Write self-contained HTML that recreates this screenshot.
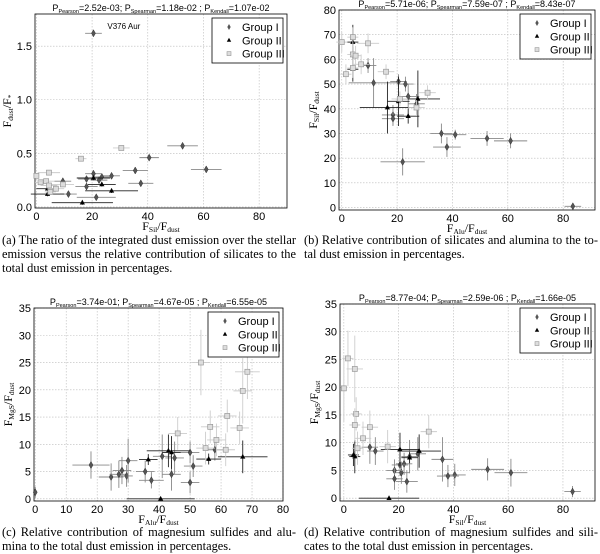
<!DOCTYPE html>
<html><head><meta charset="utf-8"><style>
html,body{margin:0;padding:0;background:#fff;width:600px;height:554px;overflow:hidden;position:relative}
svg{position:absolute;left:0;top:0}
.cap{position:absolute;width:294px;font-family:"Liberation Serif",serif;font-size:12.4px;line-height:14.2px;color:#000}
.cap span{display:block;white-space:nowrap;text-align:justify;text-align-last:justify}
.cap span.last{text-align-last:left}
</style></head><body>
<svg id="fig" width="600" height="554"></svg>
<div class="cap" style="left:2px;top:233px"><span>(a) The ratio of the integrated dust emission over the stellar</span><span>emission versus the relative contribution of silicates to the</span><span class="last">total dust emission in percentages.</span></div>
<div class="cap" style="left:304px;top:233px"><span>(b) Relative contribution of silicates and alumina to the to-</span><span class="last">tal dust emission in percentages.</span></div>
<div class="cap" style="left:2px;top:525px"><span>(c) Relative contribution of magnesium sulfides and alu-</span><span class="last">mina to the total dust emission in percentages.</span></div>
<div class="cap" style="left:304px;top:525px"><span>(d) Relative contribution of magnesium sulfides and sili-</span><span class="last">cates to the total dust emission in percentages.</span></div>
<script>
// Panel (a): x = Fsil/Fdust, y = Fdust/F*
const aG1x=[20.5,52.5,40.5,61,35.5,37.5,27,23.5,20.5,18,22.5,18,9.5,11.5,21.5];
const aG1y=[1.62,0.57,0.46,0.35,0.34,0.22,0.29,0.28,0.31,0.26,0.25,0.19,0.24,0.12,0.09];
const aG1xe=[3,5.5,3.5,5.5,4.5,4.5,3,3,3,3,3,4,3,3,7];
const aG2x=[20.5,23.5,27,4,4,16.5];
const aG2y=[0.27,0.21,0.15,0.17,0.12,0.04];
const aG2xe=[6,5,9.5,4,6,11];
const aG3x=[30.5,16,4.5,0,1.5,3.5,9.5,4.5,7,5];
const aG3y=[0.55,0.45,0.32,0.29,0.23,0.24,0.21,0.20,0.17,0.14];
const aG3xe=[3,2,4,1,2,3,4,3,3,2];
// Panel (b): x = Falu/Fdust, y = Fsil/Fdust
const bG1x=[83.5,61,52.5,41,36,38,22,18.5,18.5,27,24,20.5,23,11.5,9.5];
const bG1y=[0.5,27,28,29.5,30,24.5,18.5,37.5,36,42,45,51,50,50.5,57.5];
const bG1xe=[3,6,6,4,4,5,8,4,4,3,4,3,3,9,3];
const bG1ye=[0.5,3,3,2,4,4,5.5,4,3,4,5,3,3,10,3];
const bG2x=[4,4,16.5,20.5,24,27.5];
const bG2y=[67,56,40.5,43,37,44];
const bG2xe=[2,2,10,4,4,8];
const bG2ye=[7,5,10.5,10,3,11.5];
const bG3x=[0,4,9.5,4,5,4,7,1.5,16,31,27,21];
const bG3y=[67,69,66.5,62,61.5,56.5,58,54,55,46.5,40.5,44];
const bG3xe=[2,2,4,2,2,2,3,2,3,3,3,3];
const bG3ye=[4,4,4,4,4,4,4,4,3,3,3,3];
// Panel (c): x = Falu/Fdust, y = FMgS/Fdust
const cG1x=[0,18,24.5,27,28,29.5,30,35.5,37.5,41,44,45,50,51,50,58];
const cG1y=[1.2,6.2,4.0,4.5,5.2,4.2,7,5,3.4,7.8,4.5,7.5,8.5,6,3,9];
const cG1xe=[0.5,6,4,3,3,2,3,3,4,3,3,3,3,3,3,3];
const cG1ye=[1,2.5,2.5,2.5,2.5,2,4,2,1.5,4,3,3,2,2,2,2];
const cG2x=[40.5,36.5,43,44,56,67];
const cG2y=[0,7.2,8.8,8.5,7.3,7.7];
const cG2xe=[11,3,7,3,4,8];
const cG2ye=[0,1,3,3,1,3];
const cG3x=[53.5,68.5,67,62,56.5,46,66,58.5,55,61.5];
const cG3y=[25,23.3,19.8,15.2,13.2,12,13,10.8,9.3,9];
const cG3xe=[3,4,3,3,3,3,3,3,3,3];
const cG3ye=[6,5,6,3,3,3,3,3,3,3];
// Panel (d): x = Fsil/Fdust, y = FMgS/Fdust
const dG1x=[83.5,61,52.5,40.5,38,36,27,24,22,20.5,21,18.5,18.5,23,11.5,9.5];
const dG1y=[1.2,4.6,5.2,4.2,4,7,8,7.5,6.2,6,4.6,5,3.5,3,8.5,9.2];
const dG1xe=[3,6,6,4,4,4,3,3,3,3,3,3,3,4,3,3];
const dG1ye=[1,2.5,2,2,2,4,3,3,2,2,2,2,2,2,2.5,3];
const dG2x=[4,3.5,16.5,20.5,24,27.5];
const dG2y=[7.5,7.8,0,8.8,7.3,8.5];
const dG2xe=[2,2,11,7,3,8];
const dG2ye=[3,2,0,3,1,3];
const dG3x=[1.5,4,0,4.5,4,9.5,31,7,16,5];
const dG3y=[25.2,23.3,19.8,15.2,13.2,12.8,12,10.8,9.3,9];
const dG3xe=[2,3,1,2,2,3,3,3,3,2];
const dG3ye=[5,6,6,3,3,3,3,3,3,3];

const aXT=[0,20,40,60,80], aYT=[0,0.5,1.0,1.5], aYL=["0.0","0.5","1.0","1.5"];
const bXT=[0,20,40,60,80], bYT=[0,10,20,30,40,50,60,70,80];
const cXT=[0,10,20,30,40,50,60,70,80], cYT=[0,5,10,15,20,25,30,35];
const dXT=[0,20,40,60,80], dYT=[0,5,10,15,20,25,30,35];

const NS="http://www.w3.org/2000/svg";
const svg=document.getElementById('fig');
function mk(tag,attrs,parent,txt){const e=document.createElementNS(NS,tag);for(const k in attrs)e.setAttribute(k,attrs[k]);if(txt!==undefined)e.textContent=txt;(parent||svg).appendChild(e);return e;}
function sub(parent,s,fs){return mk('tspan',{'font-size':fs,'baseline-shift':'-25%'},parent,s);}

function panel(o){
  const g=mk('g',{});
  
  
  const X=v=>o.L+(v-o.x0)/(o.x1-o.x0)*(o.R-o.L);
  const Y=v=>o.B-(v-o.y0)/(o.y1-o.y0)*(o.B-o.T);
  o.xt.forEach(t=>{
    const x=X(t);
    const gl=mk('line',{x1:x,x2:x,y1:o.T,y2:o.B,stroke:'#bbb','stroke-width':0.6,'stroke-dasharray':'1.5,1.5'},g);
    
    
    const tl=mk('text',{x:x,y:o.B+12,'font-size':11,'text-anchor':'middle','font-family':'Liberation Sans, sans-serif'},g,String(t));
    
    
  });
  o.yt.forEach((t,i)=>{
    const y=Y(t);
    const gl=mk('line',{x1:o.L,x2:o.R,y1:y,y2:y,stroke:'#bbb','stroke-width':0.6,'stroke-dasharray':'1.5,1.5'},g);
    
    
    const tl=mk('text',{x:o.L-3,y:y+4,'font-size':11,'text-anchor':'end','font-family':'Liberation Sans, sans-serif'},g,o.yl?o.yl[i]:String(t));
    
    
  });
  const fr=mk('rect',{x:o.L,y:o.T,width:o.R-o.L,height:o.B-o.T,fill:'none',stroke:'#000','stroke-width':0.8},g);
  
  
  o.series.forEach((s,si)=>{
    const sg=mk('g',{},g);
    
    
    s.x.forEach((xv,i)=>{
      const px=X(xv),py=Y(s.y[i]);
      const xe=s.xe?s.xe[i]:0, ye=s.ye?s.ye[i]:(o.dye||0);
      const ec=si==1?'#222':(si==0?'#888':'#ccc');
      if(xe){const l=mk('line',{x1:X(xv-xe),x2:X(xv+xe),y1:py,y2:py,stroke:ec,'stroke-width':0.9},sg);
        }
      if(ye){const l=mk('line',{x1:px,x2:px,y1:Y(s.y[i]-ye),y2:Y(s.y[i]+ye),stroke:ec,'stroke-width':0.9},sg);
        }
      let m;
      if(si==0) m=mk('path',{d:`M${px},${py-3.5}L${px+2},${py}L${px},${py+3.5}L${px-2},${py}Z`,fill:'#555',stroke:'#333','stroke-width':0.5},sg);
      else if(si==1) m=mk('path',{d:`M${px},${py-3}L${px+2.6},${py+1.8}L${px-2.6},${py+1.8}Z`,fill:'#000'},sg);
      else m=mk('rect',{x:px-2.5,y:py-2.5,width:5,height:5,fill:'#ddd',stroke:'#999','stroke-width':0.7},sg);
      
      
    });
  });
  const tt=mk('text',{x:(o.L+o.R)/2,y:o.T-3,'font-size':9,'text-anchor':'middle','font-family':'Liberation Sans, sans-serif'},g);
  
  
  mk('tspan',{},tt,'P');sub(tt,'Pearson',5.5);mk('tspan',{},tt,'='+o.p[0]+'; P');sub(tt,'Spearman',5.5);mk('tspan',{},tt,'='+o.p[1]+' ; P');sub(tt,'Kendall',5.5);mk('tspan',{},tt,'='+o.p[2]);
  const xl=mk('text',{x:(o.L+o.R)/2,y:o.B+22,'font-size':12,'text-anchor':'middle','font-family':'Liberation Serif, serif'},g);
  
  
  mk('tspan',{},xl,'F');sub(xl,o.xs,7.5);mk('tspan',{},xl,'/F');sub(xl,'dust',7.5);
  const cy=(o.T+o.B)/2;
  const yl=mk('text',{x:0,y:0,'font-size':12,'text-anchor':'middle','font-family':'Liberation Serif, serif',transform:`translate(${o.L-o.yoff},${cy}) rotate(-90)`},g);
  
  
  mk('tspan',{},yl,'F');sub(yl,o.ys1,7.5);mk('tspan',{},yl,'/F');sub(yl,o.ys2,7.5);
  const lx=o.R-75, ly=o.T+4;
  const lg=mk('g',{},g);
  
  
  mk('rect',{x:lx,y:ly,width:71,height:45,fill:'#fff',stroke:'#000','stroke-width':0.8},lg);
  ['Group I','Group II','Group III'].forEach((n,i)=>{
    const yy=ly+9+i*13.3, mx=lx+17;
    let m;
    if(i==0) m=mk('path',{d:`M${mx},${yy-3}L${mx+1.7},${yy}L${mx},${yy+3}L${mx-1.7},${yy}Z`,fill:'#555'},lg);
    else if(i==1) m=mk('path',{d:`M${mx},${yy-2.5}L${mx+2.2},${yy+1.5}L${mx-2.2},${yy+1.5}Z`,fill:'#000'},lg);
    else m=mk('rect',{x:mx-2,y:yy-2,width:4,height:4,fill:'#ddd',stroke:'#999','stroke-width':0.6},lg);
    
    
    const t=mk('text',{x:lx+30,y:yy+4,'font-size':11,'font-family':'Liberation Sans, sans-serif'},lg,n);
    
    
  });
  return {g,X,Y};
}

const pa=panel({name:'panel-a',L:35,R:287,T:14,B:208,x0:-0.5,x1:90,y0:-0.01,y1:1.8,xt:aXT,yt:aYT,yl:aYL,dye:0.02,
  p:['2.52e-03','1.18e-02','1.07e-02'],xs:'Sil',ys1:'dust',ys2:'*',yoff:24,
  series:[{x:aG1x,y:aG1y,xe:aG1xe},{x:aG2x,y:aG2y,xe:aG2xe},{x:aG3x,y:aG3y,xe:aG3xe}]});
const ann=mk('text',{x:pa.X(25.5),y:pa.Y(1.66),'font-size':8,'font-family':'Liberation Sans, sans-serif'},pa.g,'V376 Aur');



panel({name:'panel-b',L:339,R:595,T:10,B:210,x0:-1,x1:91.5,y0:-1,y1:80,xt:bXT,yt:bYT,
  p:['5.71e-06','7.59e-07','8.43e-07'],xs:'Alu',ys1:'Sil',ys2:'dust',yoff:22,
  series:[{x:bG1x,y:bG1y,xe:bG1xe,ye:bG1ye},{x:bG2x,y:bG2y,xe:bG2xe,ye:bG2ye},{x:bG3x,y:bG3y,xe:bG3xe,ye:bG3ye}]});

panel({name:'panel-c',L:34,R:283,T:308,B:501,x0:-0.4,x1:80,y0:-0.4,y1:35,xt:cXT,yt:cYT,
  p:['3.74e-01','4.67e-05','6.55e-05'],xs:'Alu',ys1:'MgS',ys2:'dust',yoff:22,
  series:[{x:cG1x,y:cG1y,xe:cG1xe,ye:cG1ye},{x:cG2x,y:cG2y,xe:cG2xe,ye:cG2ye},{x:cG3x,y:cG3y,xe:cG3xe,ye:cG3ye}]});

panel({name:'panel-d',L:340,R:595,T:304,B:501,x0:-1.4,x1:91.7,y0:-0.5,y1:35,xt:dXT,yt:dYT,
  p:['8.77e-04','2.59e-06','1.66e-05'],xs:'Sil',ys1:'MgS',ys2:'dust',yoff:22,
  series:[{x:dG1x,y:dG1y,xe:dG1xe,ye:dG1ye},{x:dG2x,y:dG2y,xe:dG2xe,ye:dG2ye},{x:dG3x,y:dG3y,xe:dG3xe,ye:dG3ye}]});
</script>
</body></html>
